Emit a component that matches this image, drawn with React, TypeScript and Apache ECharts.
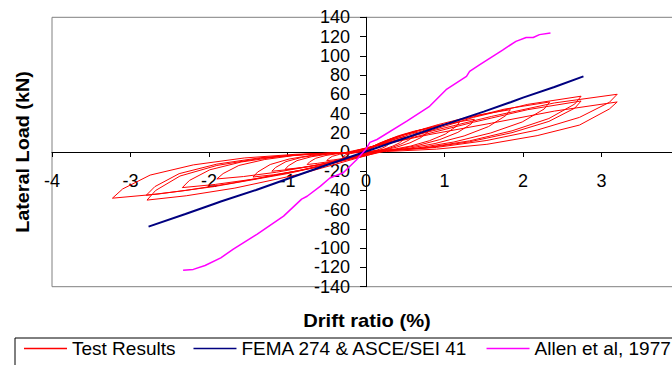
import React, { useEffect, useRef } from "react";
import * as echarts from "echarts";

// Test results: hysteresis cycles [drift %, load kN]
const cycle01 = [[0,0],[0.08,4.2],[0.15,6.7],[0.23,8.7],[0.3,10],[0.29,8.6],[0.26,6],[0.2,3.8],[0.14,2],[0.08,0.8],[0.02,0.2],[-0.09,-2.8],[-0.18,-4.5],[-0.25,-5.5],[-0.3,-6],[-0.29,-4.8],[-0.26,-3],[-0.2,-1.7],[-0.14,-0.8],[-0.08,-0.3],[-0.02,-0.1]];
const cycle02 = [[0.13,6.7],[0.25,10.7],[0.38,13.9],[0.5,16],[0.49,13.8],[0.43,9.6],[0.34,6.1],[0.24,3.2],[0.14,1.3],[0.04,0.3],[-0.15,-4.1],[-0.3,-6.8],[-0.41,-8.2],[-0.5,-9],[-0.48,-7.2],[-0.43,-4.5],[-0.34,-2.5],[-0.24,-1.2],[-0.14,-0.5],[-0.04,-0.1]];
const cycle03 = [[0.16,8.8],[0.33,14.1],[0.49,18.3],[0.65,21],[0.63,18.1],[0.55,12.6],[0.44,8],[0.31,4.2],[0.18,1.7],[0.05,0.4],[-0.23,-6],[-0.45,-9.8],[-0.62,-11.8],[-0.75,-13],[-0.72,-10.4],[-0.64,-6.5],[-0.51,-3.6],[-0.36,-1.7],[-0.21,-0.7],[-0.06,-0.1]];
const cycle04 = [[0.21,10.5],[0.41,16.8],[0.62,21.8],[0.82,25],[0.8,21.5],[0.7,15],[0.56,9.5],[0.39,5],[0.23,2],[0.07,0.5],[-0.31,-8.3],[-0.62,-13.5],[-0.84,-16.4],[-1.03,-18],[-0.99,-14.4],[-0.88,-9],[-0.7,-5],[-0.49,-2.3],[-0.29,-0.9],[-0.08,-0.2]];
const cycle05 = [[0.3,13],[0.6,20.8],[0.89,27],[1.19,31],[1.15,26.7],[1.01,18.6],[0.81,11.8],[0.57,6.2],[0.33,2.5],[0.1,0.6],[-0.36,-9.2],[-0.72,-15],[-0.98,-18.2],[-1.2,-20],[-1.15,-16],[-1.02,-10],[-0.82,-5.6],[-0.58,-2.6],[-0.34,-1],[-0.1,-0.2]];
const cycle06 = [[0.35,14.3],[0.69,22.8],[1.04,29.6],[1.38,34],[1.34,29.2],[1.17,20.4],[0.94,12.9],[0.66,6.8],[0.39,2.7],[0.11,0.7],[-0.43,-12],[-0.86,-19.5],[-1.18,-23.7],[-1.44,-26],[-1.38,-20.8],[-1.22,-13],[-0.98,-7.3],[-0.69,-3.4],[-0.4,-1.3],[-0.12,-0.3]];
const cycle07 = [[0.46,17.5],[0.92,28.5],[1.38,37.8],[1.84,44],[1.78,37.8],[1.56,26.4],[1.25,16.7],[0.88,8.8],[0.52,3.5],[0.15,0.9],[-0.57,-12.9],[-1.14,-21],[-1.56,-25.5],[-1.9,-28],[-1.82,-22.4],[-1.62,-14],[-1.29,-7.8],[-0.91,-3.6],[-0.53,-1.4],[-0.15,-0.3]];
const cycle08 = [[0.59,19],[1.17,32.5],[1.76,44.5],[2.34,52],[2.27,44.7],[1.99,31.2],[1.59,19.8],[1.12,10.4],[0.66,4.2],[0.19,1],[-0.7,-17],[-1.4,-27.8],[-1.92,-33.7],[-2.34,-37],[-2.25,-29.6],[-1.99,-18.5],[-1.59,-10.4],[-1.12,-4.8],[-0.66,-1.9],[-0.19,-0.4]];
const cycle09 = [[0.69,19],[1.37,36],[2.06,49.5],[2.74,58],[2.66,49.9],[2.33,34.8],[1.86,22],[1.32,11.6],[0.77,4.6],[0.22,1.2],[-0.84,-23],[-1.67,-37.5],[-2.29,-45.5],[-2.79,-50],[-2.68,-40],[-2.37,-25],[-1.9,-14],[-1.34,-6.5],[-0.78,-2.5],[-0.22,-0.5]];
const cycle10 = [[0.69,17],[1.37,31],[2.06,44],[2.74,53],[2.66,45.6],[2.33,31.8],[1.86,20.1],[1.32,10.6],[0.77,4.2],[0.22,1.1],[-0.84,-19],[-1.68,-32],[-2.3,-40],[-2.8,-45],[-2.69,-36],[-2.38,-22.5],[-1.9,-12.6],[-1.34,-5.9],[-0.78,-2.3],[-0.22,-0.5]];
const cycle11 = [[0.8,21],[1.6,37],[2.4,51],[3.2,60],[3.1,51.6],[2.72,36],[2.18,22.8],[1.54,12],[0.9,4.8],[0.26,1.2],[-0.97,-22],[-1.94,-36],[-2.65,-43.7],[-3.23,-48],[-3.1,-38.4],[-2.75,-24],[-2.2,-13.4],[-1.55,-6.2],[-0.9,-2.4],[-0.26,-0.5]];
const cycle12 = [[0.8,18],[1.6,30],[2.4,42.5],[3.2,52],[3.1,44.7],[2.72,28],[2.18,17],[1.54,8],[0.9,3],[0.26,0.5],[0,0]];

const femaPoints = [[-2.77,-77.6],[-2.3,-64.5],[-1.92,-53.5],[-1.85,-51.5],[-1.4,-39.5],[-0.97,-27],[-0.5,-13.5],[0,0.5],[0.5,14.5],[1,28.5],[1.5,42],[1.85,52],[2,56.5],[2.4,67.5],[2.77,78.6]];

const allenPoints = [[-2.33,-123],[-2.2,-122],[-2.05,-118],[-1.85,-110],[-1.69,-101],[-1.39,-85.6],[-1.05,-66.6],[-0.82,-49],[-0.75,-46],[-0.58,-35.5],[-0.46,-27],[-0.29,-21.6],[-0.12,-8],[0,3],[0.05,10],[0.14,13],[0.52,32],[0.81,47.5],[1.02,64.8],[1.28,78.6],[1.32,83.8],[1.45,90.8],[1.74,106],[1.91,115],[2.04,119],[2.13,119],[2.21,122],[2.35,123.6]];

const seriesNames = ["Test Results", "FEMA 274 & ASCE/SEI 41", "Allen et al, 1977"];
const xTitle = "Drift ratio (%)";
const yTitle = "Lateral Load (kN)";

const FONT = "'Liberation Sans', Arial, sans-serif";

const GRID_LEFT = 52;
const GRID_TOP = 17.3;
const GRID_W = 628;
const GRID_H = 269.4;

export default function App() {
  const ref = useRef<HTMLDivElement>(null);
  useEffect(() => {
    const chart = echarts.init(ref.current!, null, { renderer: "svg" });
    const testResults = [
      ...cycle01, ...cycle02, ...cycle03, ...cycle04, ...cycle05, ...cycle06,
      ...cycle07, ...cycle08, ...cycle09, ...cycle10, ...cycle11, ...cycle12,
    ];
    chart.setOption({
      animation: false,
      backgroundColor: "#ffffff",
      textStyle: { fontFamily: FONT },
      grid: {
        show: true,
        left: GRID_LEFT,
        top: GRID_TOP,
        width: GRID_W,
        height: GRID_H,
        containLabel: false,
        outerBoundsMode: "none",
        borderColor: "#808080",
        borderWidth: 1,
        backgroundColor: "transparent",
      },
      xAxis: {
        type: "value",
        position: "bottom",
        offset: -GRID_H / 2,
        min: -4,
        max: 4,
        interval: 1,
        axisLine: { onZero: false, lineStyle: { color: "#000", width: 1 } },
        axisTick: { show: true, length: 5, lineStyle: { color: "#000" } },
        axisLabel: { color: "#000", fontSize: 18, margin: 20, fontFamily: FONT, showMaxLabel: false },
        splitLine: { show: false },
      },
      yAxis: {
        type: "value",
        position: "left",
        offset: -GRID_W / 2,
        min: -140,
        max: 140,
        interval: 20,
        axisLine: { onZero: false, lineStyle: { color: "#000", width: 1 } },
        axisTick: { show: true, length: 6, lineStyle: { color: "#000" } },
        axisLabel: { color: "#000", fontSize: 18, margin: 16, fontFamily: FONT },
        splitLine: { show: false },
      },
      legend: {
        left: 15,
        top: 338,
        width: 700,
        padding: [1, 9, 10, 9],
        borderColor: "#000",
        borderWidth: 1,
        icon: "rect",
        itemWidth: 43,
        itemHeight: 1.5,
        itemGap: 18,
        textStyle: { color: "#000", fontSize: 19, fontFamily: FONT },
        data: seriesNames,
      },
      series: [
        {
          name: seriesNames[0],
          type: "line",
          data: testResults,
          symbol: "none",
          lineStyle: { color: "#FF0000", width: 1 },
          itemStyle: { color: "#FF0000" },
          z: 2,
        },
        {
          name: seriesNames[1],
          type: "line",
          data: femaPoints,
          symbol: "none",
          lineStyle: { color: "#000080", width: 2 },
          itemStyle: { color: "#000080" },
          z: 3,
        },
        {
          name: seriesNames[2],
          type: "line",
          data: allenPoints,
          symbol: "none",
          lineStyle: { color: "#FF00FF", width: 1.5 },
          itemStyle: { color: "#FF00FF" },
          z: 4,
        },
      ],
      graphic: [
        {
          type: "text",
          x: 23,
          y: 152,
          rotation: Math.PI / 2,
          scaleX: 1.1,
          style: {
            text: yTitle,
            fontSize: 18,
            fontWeight: "bold",
            fontFamily: FONT,
            fill: "#000",
            align: "center",
            verticalAlign: "middle",
          },
        },
        {
          type: "text",
          x: 367,
          y: 321,
          scaleX: 1.12,
          style: {
            text: xTitle,
            fontSize: 18,
            fontWeight: "bold",
            fontFamily: FONT,
            fill: "#000",
            align: "center",
            verticalAlign: "middle",
          },
        },
      ],
    });
    return () => chart.dispose();
  }, []);
  return (
    <div
      ref={ref}
      style={{ position: "fixed", left: 0, top: 0, width: 672, height: 365, background: "#fff" }}
    />
  );
}
